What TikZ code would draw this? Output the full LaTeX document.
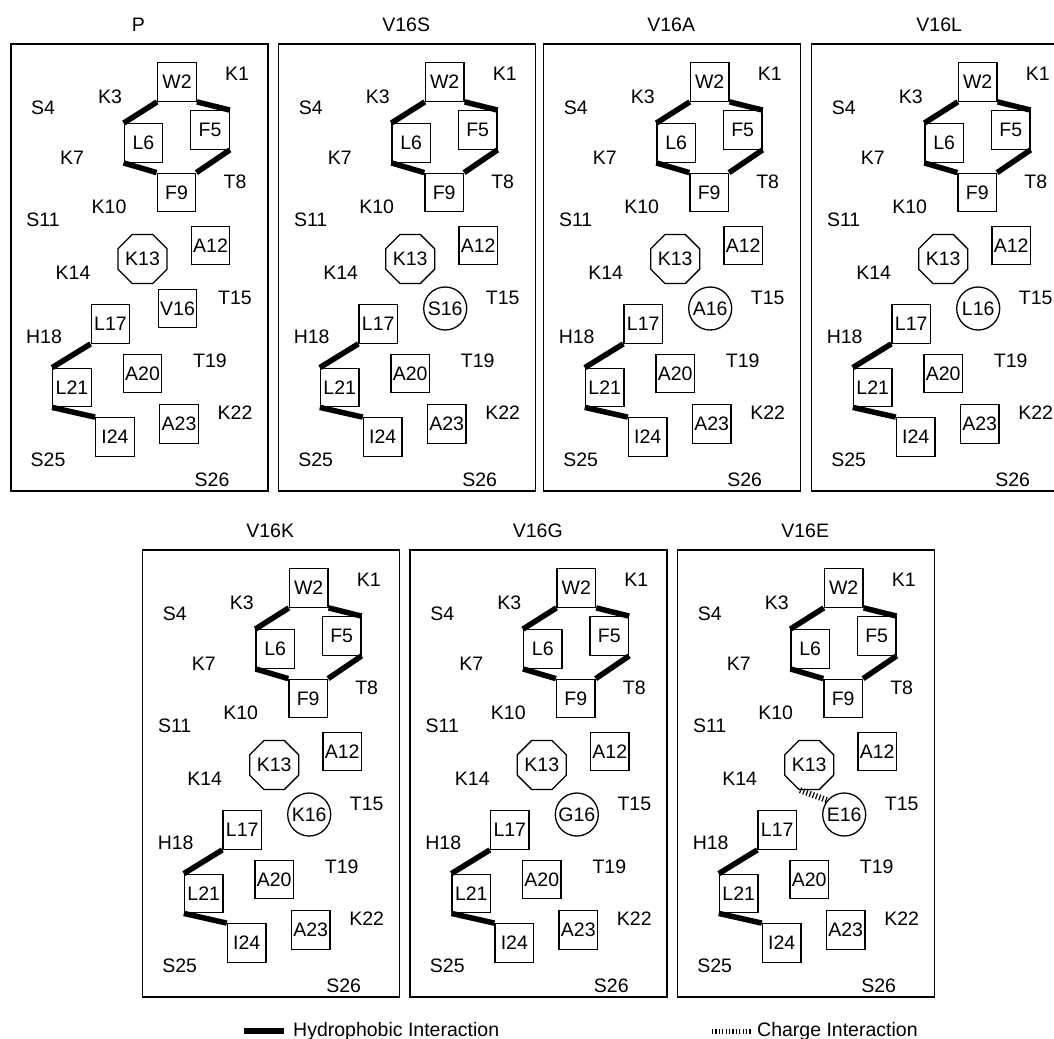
\documentclass[tikz,border=0pt]{standalone}
\usepackage{fontspec}
\setmainfont{Liberation Sans}
\usetikzlibrary{shapes.geometric}
\tikzset{
  frame/.style  = {draw, line width=1.6pt, minimum width=257pt, minimum height=447pt,
                   anchor=north west, inner sep=0pt},
  res/.style    = {draw, line width=1.3pt, minimum size=38.5pt, inner sep=0pt, fill=white},
  oct/.style    = {res, regular polygon, regular polygon sides=8, minimum size=44.5pt},
  rnd/.style    = {res, circle, minimum size=43pt},
  lbl/.style    = {inner sep=0pt},
  ttl/.style    = {inner sep=0pt},
  hyd/.style    = {line width=5.5pt},
  charge/.style = {line width=6pt, dash pattern=on 1.2pt off 2.2pt},
}
% one panel: name prefix, shift, title, residue 16, shape of residue 16
\newcommand{\seqpanel}[5]{%
  \begin{scope}[shift={#2}]
    \node[frame]  (#1-frame) at (0,0) {};
    \node[ttl]    (#1-title) at (128.5,-18) {#3};
    \node[res] (#1-w2)  at (167,39)      {W2};
    \node[res] (#1-f5)  at (200,87)      {F5};
    \node[res] (#1-l6)  at (133.5,100)   {L6};
    \node[res] (#1-f9)  at (166.5,149.5) {F9};
    \node[res] (#1-a12) at (200.5,202.5) {A12};
    \node[oct] (#1-k13) at (132.5,216)   {K13};
    \node[#5]  (#1-r16) at (167.5,265.5) {#4};
    \node[res] (#1-l17) at (100.5,281)   {L17};
    \node[res] (#1-a20) at (132.5,330.5) {A20};
    \node[res] (#1-l21) at (62,344.5)    {L21};
    \node[res] (#1-a23) at (169,381)     {A23};
    \node[res] (#1-i24) at (105,394)     {I24};
    \node[lbl] (#1-k1)  at (227,31)  {K1};
    \node[lbl] (#1-k3)  at (100,54)  {K3};
    \node[lbl] (#1-s4)  at (33,65)   {S4};
    \node[lbl] (#1-k7)  at (62,115)  {K7};
    \node[lbl] (#1-t8)  at (225,139) {T8};
    \node[lbl] (#1-k10) at (99,164)  {K10};
    \node[lbl] (#1-s11) at (33,177)  {S11};
    \node[lbl] (#1-k14) at (63,230)  {K14};
    \node[lbl] (#1-t15) at (225,255) {T15};
    \node[lbl] (#1-h18) at (34,294)  {H18};
    \node[lbl] (#1-t19) at (200,318) {T19};
    \node[lbl] (#1-k22) at (225,370) {K22};
    \node[lbl] (#1-s25) at (38,417)  {S25};
    \node[lbl] (#1-s26) at (202,437) {S26};
    \draw[hyd] (#1-w2.south west) -- (#1-l6.north west);
    \draw[hyd] (#1-w2.south east) -- (#1-f5.north east);
    \draw[hyd] (#1-f5.south east) -- (#1-f9.north east);
    \draw[hyd] (#1-l6.south west) -- (#1-f9.north west);
    \draw[hyd] (#1-l17.south west) -- (#1-l21.north west);
    \draw[hyd] (#1-l21.south west) -- (#1-i24.north west);
  \end{scope}}

\begin{document}
\begin{tikzpicture}[x=1pt, y=-1pt, font=\fontsize{19.5}{23}\selectfont]
  \clip (0,0) rectangle (1054,1038);

  \seqpanel{p}{(10,43)}{P}{V16}{res}
  \seqpanel{s}{(277.7,43)}{V16S}{S16}{rnd}
  \seqpanel{a}{(542.7,43)}{V16A}{A16}{rnd}
  \seqpanel{l}{(810.7,43)}{V16L}{L16}{rnd}
  \seqpanel{k}{(141.7,549)}{V16K}{K16}{rnd}
  \seqpanel{g}{(409.3,549)}{V16G}{G16}{rnd}
  \seqpanel{e}{(676.7,549)}{V16E}{E16}{rnd}

  % salt bridge in V16E
  \draw[charge] (e-k13.250) -- (e-r16.140);

  % legend
  \coordinate (hyd-a) at (244,1031);
  \coordinate (hyd-b) at (284,1031);
  \draw[hyd] (hyd-a) -- (hyd-b);
  \node[lbl, anchor=base west] (hyd-txt) at (293,1036) {Hydrophobic Interaction};
  \coordinate (chg-a) at (712,1031);
  \coordinate (chg-b) at (752,1031);
  \draw[charge, line width=5pt] (chg-a) -- (chg-b);
  \node[lbl, anchor=base west] (chg-txt) at (757,1036) {Charge Interaction};
\end{tikzpicture}
\end{document}
